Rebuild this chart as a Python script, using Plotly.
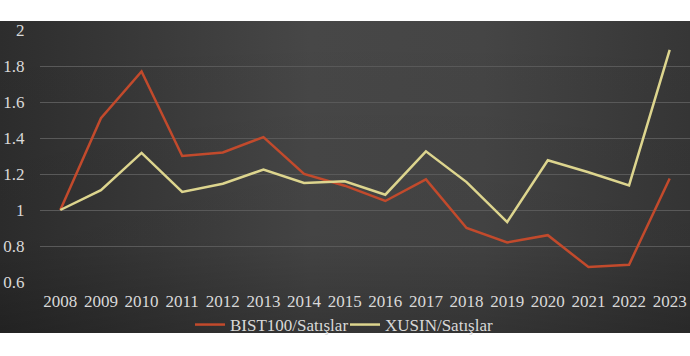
import base64
import plotly.graph_objects as go

years = ["2008", "2009", "2010", "2011", "2012", "2013", "2014", "2015",
         "2016", "2017", "2018", "2019", "2020", "2021", "2022", "2023"]
bist100 = [1.00, 1.51, 1.77, 1.30, 1.32, 1.405, 1.20, 1.135, 1.05, 1.17,
           0.90, 0.82, 0.86, 0.683, 0.696, 1.175]
xusin = [1.00, 1.11, 1.317, 1.10, 1.146, 1.225, 1.15, 1.16, 1.085, 1.326,
         1.155, 0.933, 1.276, 1.21, 1.137, 1.89]
y_ticks = [0.6, 0.8, 1, 1.2, 1.4, 1.6, 1.8, 2]
y_labels = ["0.6", "0.8", "1", "1.2", "1.4", "1.6", "1.8", "2"]

W, H = 690, 356
L, R, T, B = 40, 0, 30, 74
pw, ph = W - L - R, H - T - B

svg = (
    '<svg xmlns="http://www.w3.org/2000/svg" width="690" height="312">'
    '<defs><linearGradient id="g" x1="0" y1="0" x2="1" y2="0">'
    '<stop offset="0" stop-color="#2d2d2d"/>'
    '<stop offset="0.45" stop-color="#474747"/>'
    '<stop offset="0.7" stop-color="#454545"/>'
    '<stop offset="1" stop-color="#363636"/>'
    '</linearGradient>'
    '<linearGradient id="v" x1="0" y1="0" x2="0" y2="1">'
    '<stop offset="0" stop-color="#000" stop-opacity="0"/>'
    '<stop offset="0.7" stop-color="#000" stop-opacity="0.05"/>'
    '<stop offset="1" stop-color="#000" stop-opacity="0.25"/>'
    '</linearGradient></defs>'
    '<rect width="690" height="312" fill="url(#g)"/>'
    '<rect width="690" height="312" fill="url(#v)"/>'
    '</svg>'
)
src = "data:image/svg+xml;base64," + base64.b64encode(svg.encode()).decode()

font = dict(family="Liberation Serif, Times New Roman, serif", size=17, color="#d9d9d9")

fig = go.Figure()
fig.add_trace(go.Scatter(x=years, y=bist100, mode="lines", name="BIST100/Satışlar",
                         line=dict(color="#c24a2c", width=2.5), legend="legend"))
fig.add_trace(go.Scatter(x=years, y=xusin, mode="lines", name="XUSIN/Satışlar",
                         line=dict(color="#ddd58e", width=2.5), legend="legend2"))

top_px, bot_px = 21, 333
fig.add_layout_image(dict(
    source=src, xref="paper", yref="paper",
    x=-L / pw, y=(H - B - top_px) / ph,
    sizex=W / pw, sizey=(bot_px - top_px) / ph,
    xanchor="left", yanchor="top", sizing="stretch", layer="below"))

leg_y = (H - B - 325) / ph
leg_common = dict(orientation="h", yanchor="middle", y=leg_y, xanchor="left",
                  bgcolor="rgba(0,0,0,0)", font=font, itemwidth=30)

fig.update_layout(
    width=W, height=H,
    margin=dict(l=L, r=R, t=T, b=B),
    paper_bgcolor="white",
    plot_bgcolor="rgba(0,0,0,0)",
    font=font,
    showlegend=True,
    legend=dict(x=(190 - L) / pw, **leg_common),
    legend2=dict(x=(345 - L) / pw, **leg_common),
    xaxis=dict(type="category", range=[-0.5, 15.5], showgrid=False,
               showline=False, zeroline=False, ticks="outside", ticklen=4,
               tickcolor="rgba(0,0,0,0)", tickfont=font),
    yaxis=dict(range=[0.6, 2.0], tickvals=y_ticks, ticktext=y_labels,
               showgrid=True, gridcolor="#595959", gridwidth=1,
               zeroline=False, showline=False, ticks="outside", ticklen=11,
               tickcolor="rgba(0,0,0,0)", tickfont=font),
)

fig.write_html("out.html")
